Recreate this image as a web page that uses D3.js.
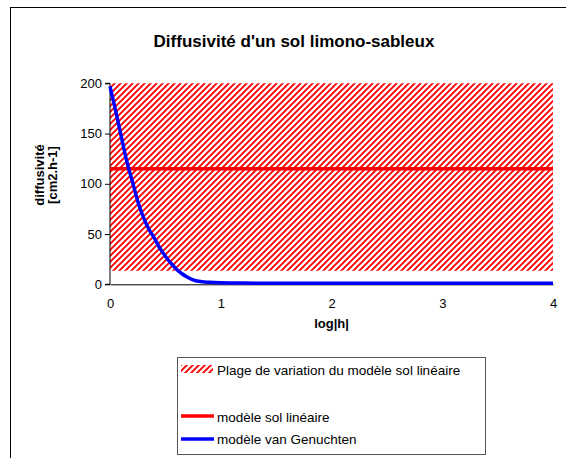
<!DOCTYPE html>
<html>
<head>
<meta charset="utf-8">
<script src="https://cdn.jsdelivr.net/npm/d3@7"></script>
<style>
  html, body { margin: 0; padding: 0; background: #fff; }
  svg { display: block; font-family: "Liberation Sans", Arial, sans-serif; }
</style>
</head>
<body>
<svg id="chart" width="566" height="458"></svg>
<script>
// Axis ticks
const xTicks = [0, 1, 2, 3, 4];
const yTicks = [0, 50, 100, 150, 200];

// van Genuchten diffusivity vs log|h|
const logH   = [0, 0.05, 0.1, 0.15, 0.2, 0.25, 0.3, 0.35, 0.4, 0.45, 0.5, 0.55, 0.6, 0.65, 0.7, 0.75, 0.8, 0.9, 1.0, 1.2, 1.5, 2, 3, 4];
const diffVG = [196, 172, 147, 122, 102, 82, 66, 54, 45, 35, 27, 20, 14, 9.5, 6, 3.5, 2, 1, 0.5, 0.2, 0.1, 0, 0, 0];

// Linear soil model: constant diffusivity and its range of variation
const linX     = [0, 4];
const linD     = [115, 115];
const rangeLow = [13.5, 13.5];
const rangeHigh= [200, 200];

const legendLabels = [
  "Plage de variation du modèle sol linéaire",
  "modèle sol linéaire",
  "modèle van Genuchten"
];

const RED = "#ff0000", BLUE = "#0000ff";

const svg = d3.select("#chart");
const plot = { left: 110, right: 553, top: 83.3, bottom: 284.3 };

const x = d3.scaleLinear().domain([0, 4]).range([plot.left, plot.right]);
const y = d3.scaleLinear().domain([0, 200]).range([plot.bottom, plot.top]);

// Hatch pattern for the variation band
const defs = svg.append("defs");
const pat = defs.append("pattern")
  .attr("id", "hatch")
  .attr("patternUnits", "userSpaceOnUse")
  .attr("width", 6).attr("height", 6);
pat.append("path")
  .attr("d", "M-1,1 L1,-1 M0,6 L6,0 M5,7 L7,5")
  .attr("stroke", RED).attr("stroke-width", 1.9);

// Outer chart frame
svg.append("rect")
  .attr("x", 10.5).attr("y", 7.5)
  .attr("width", 700).attr("height", 600)
  .attr("fill", "#fff").attr("stroke", "#000").attr("stroke-width", 1);

// Title
svg.append("text")
  .attr("x", 294).attr("y", 47)
  .attr("text-anchor", "middle")
  .attr("font-size", 17).attr("font-weight", "bold")
  .text("Diffusivité d'un sol limono-sableux");

// Variation band
const band = linX.map((v, i) => ({ x: v, lo: rangeLow[i], hi: rangeHigh[i] }));
svg.append("path")
  .datum(band)
  .attr("fill", "url(#hatch)")
  .attr("d", d3.area().x(d => x(d.x)).y0(d => y(d.lo)).y1(d => y(d.hi)));

// Axes
const yAxis = svg.append("g")
  .attr("transform", `translate(${plot.left},0)`)
  .call(d3.axisLeft(y).tickValues(yTicks).tickSize(5).tickPadding(3).tickFormat(d3.format("d")));
const xAxis = svg.append("g")
  .attr("transform", `translate(0,${plot.bottom})`)
  .call(d3.axisBottom(x).tickValues(xTicks).tickSize(0).tickPadding(14).tickFormat(d3.format("d")));
[yAxis, xAxis].forEach(g => {
  g.select(".domain").attr("stroke", "#000");
  g.selectAll(".tick line").attr("stroke", "#000");
  g.selectAll(".tick text").attr("font-size", 13).attr("fill", "#000")
    .attr("font-family", "Liberation Sans, Arial, sans-serif");
});
yAxis.select(".domain").attr("d", `M-5,${plot.top}H0V${plot.bottom}H-5`);

// Linear model
svg.append("path")
  .datum(linX.map((v, i) => [v, linD[i]]))
  .attr("fill", "none").attr("stroke", RED).attr("stroke-width", 3.5)
  .attr("d", d3.line().x(d => x(d[0])).y(d => y(d[1])));

// van Genuchten curve
svg.append("path")
  .datum(logH.map((v, i) => [v, diffVG[i]]))
  .attr("fill", "none").attr("stroke", BLUE).attr("stroke-width", 3.5)
  .attr("stroke-linejoin", "round")
  .attr("d", d3.line().curve(d3.curveMonotoneX).x(d => x(d[0])).y(d => y(d[1]) - 1));

// Axis titles
svg.append("text")
  .attr("x", (plot.left + plot.right) / 2).attr("y", 328)
  .attr("text-anchor", "middle")
  .attr("font-size", 13).attr("font-weight", "bold")
  .text("log|h|");

const yTitle = svg.append("text")
  .attr("transform", "translate(0,175) rotate(-90)")
  .attr("text-anchor", "middle")
  .attr("font-size", 13).attr("font-weight", "bold");
yTitle.append("tspan").attr("x", 0).attr("y", 44).text("diffusivité");
yTitle.append("tspan").attr("x", 0).attr("y", 57).text("[cm2.h-1]");

// Legend
const lg = svg.append("g");
lg.append("rect")
  .attr("x", 177.5).attr("y", 357.5).attr("width", 308).attr("height", 97)
  .attr("fill", "#fff").attr("stroke", "#555").attr("stroke-width", 1);

lg.append("rect")
  .attr("x", 181).attr("y", 365).attr("width", 32).attr("height", 8)
  .attr("fill", "url(#hatch)");
lg.append("line")
  .attr("x1", 181).attr("x2", 214).attr("y1", 416).attr("y2", 416)
  .attr("stroke", RED).attr("stroke-width", 3.5);
lg.append("line")
  .attr("x1", 181).attr("x2", 214).attr("y1", 439).attr("y2", 439)
  .attr("stroke", BLUE).attr("stroke-width", 3.5);

const legendY = [375, 422, 444];
legendLabels.forEach((t, i) => {
  lg.append("text")
    .attr("x", 217).attr("y", legendY[i])
    .attr("font-size", 13.5).attr("fill", "#000")
    .text(t);
});
</script>
</body>
</html>
